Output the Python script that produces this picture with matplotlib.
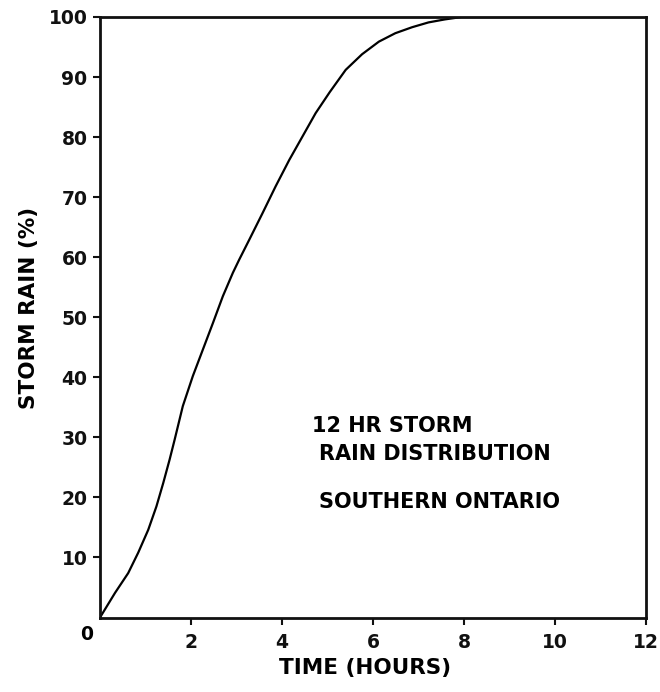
import matplotlib
matplotlib.use("Agg")
import matplotlib.pyplot as plt

time_hours = [0, 0.33, 0.62, 0.84, 1.06, 1.24, 1.39, 1.53, 1.64, 1.82, 2.04, 2.26,
              2.48, 2.70, 2.92, 3.06, 3.28, 3.57, 3.86, 4.16, 4.45, 4.74, 5.05,
              5.40, 5.76, 6.13, 6.49, 6.86, 7.22, 7.58, 7.95, 12]
storm_rain = [0, 4.1, 7.4, 10.8, 14.6, 18.5, 22.4, 26.3, 29.6, 35.2, 40.2, 44.6,
              49.0, 53.5, 57.4, 59.6, 62.9, 67.3, 71.8, 76.2, 80.1, 84.0, 87.5,
              91.2, 93.8, 95.9, 97.3, 98.3, 99.1, 99.6, 100, 100]
x_ticks = [2, 4, 6, 8, 10, 12]
y_ticks = [10, 20, 30, 40, 50, 60, 70, 80, 90, 100]
annot_lines = ["12 HR STORM", "RAIN DISTRIBUTION", "SOUTHERN ONTARIO"]

plt.rcParams['font.family'] = ['DejaVu Sans']
plt.rcParams['font.weight'] = 'bold'

fig = plt.figure(figsize=(6.6, 6.92), dpi=100)
ax = fig.add_axes([100/660, 1-617.5/692, 546/660, 600.5/692])

ax.plot(time_hours, storm_rain, color='black', lw=1.6,
        solid_joinstyle='round', solid_capstyle='round')
ax.set_xlim(0, 12)
ax.set_ylim(0, 100)
ax.set_xticks(x_ticks)
ax.set_yticks(y_ticks)
ax.tick_params(direction='out', length=5, width=1.5, labelsize=13.5, colors='#111111')
ax.tick_params(axis='x', pad=6)
ax.tick_params(axis='y', pad=4)
for lab in ax.get_xticklabels() + ax.get_yticklabels():
    lab.set_fontweight('bold')
for s in ax.spines.values():
    s.set_linewidth(2.0)
    s.set_color('#111111')

ax.text(-0.013, -0.012, "0", transform=ax.transAxes, ha='right', va='top',
        fontsize=13.5, fontweight='bold')
ax.set_xlabel("TIME (HOURS)", fontsize=15.5, fontweight='bold')
ax.set_ylabel("STORM RAIN (%)", fontsize=15.5, fontweight='bold')
ax.xaxis.set_label_coords(0.485, -0.068)
ax.yaxis.set_label_coords(-0.112, 0.515)

ax.text(4.66, 31.9, annot_lines[0], fontsize=15, fontweight='bold', va='center', ha='left')
ax.text(4.81, 27.2, annot_lines[1], fontsize=15, fontweight='bold', va='center', ha='left')
ax.text(4.81, 19.2, annot_lines[2], fontsize=15, fontweight='bold', va='center', ha='left')

fig.savefig("out.png", dpi=100)
